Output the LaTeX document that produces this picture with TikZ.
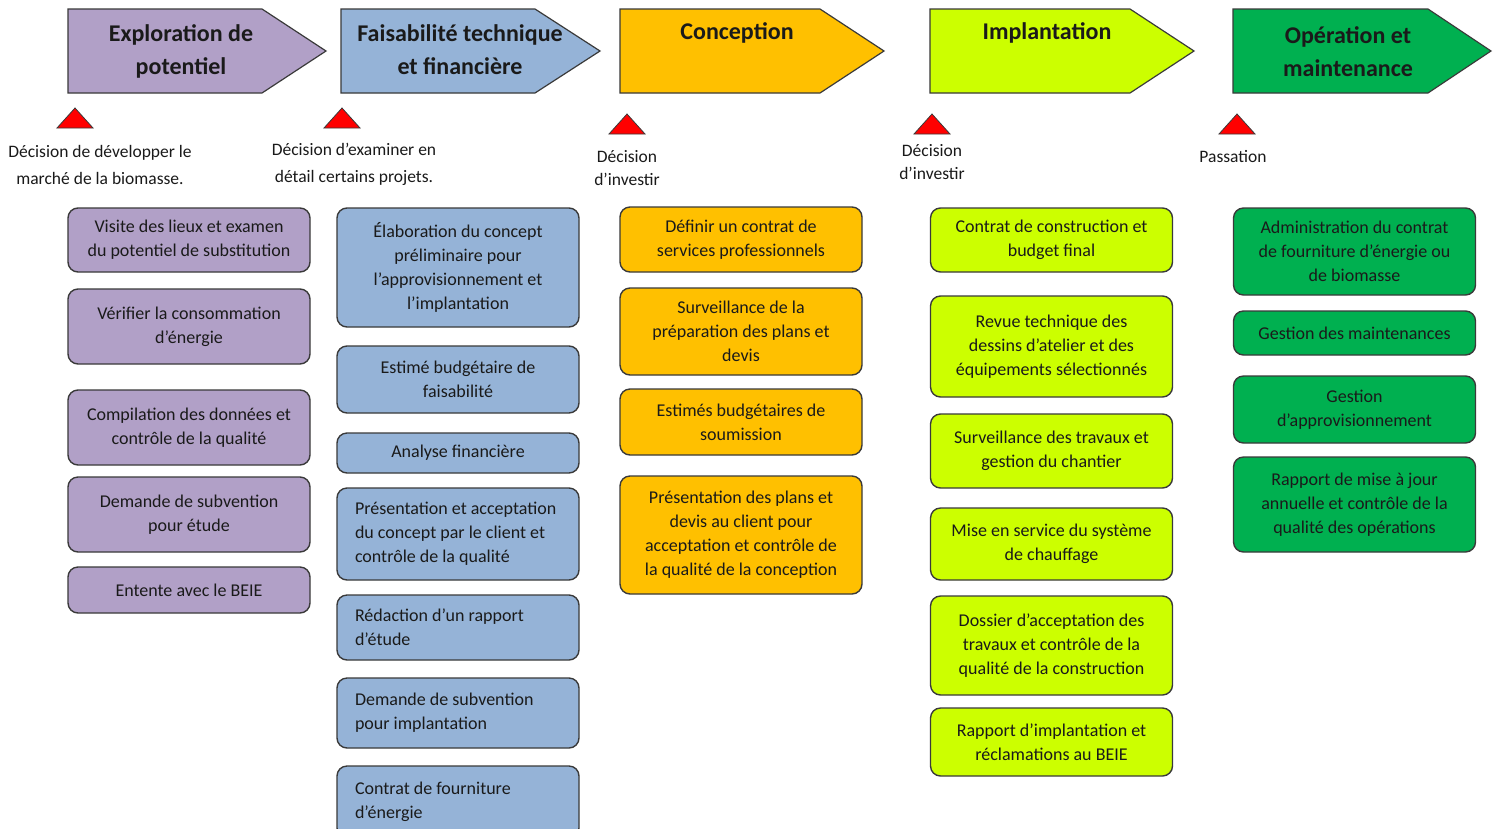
\documentclass[tikz,border=0pt]{standalone}
\usepackage{fontspec}
\setmainfont{Carlito}
\definecolor{cpurple}{HTML}{B1A0C7}
\definecolor{cblue}{HTML}{95B3D7}
\definecolor{corange}{HTML}{FFC000}
\definecolor{clime}{HTML}{CCFF00}
\definecolor{cgreen}{HTML}{00B050}
\definecolor{cred}{HTML}{FF0000}
\definecolor{cedge}{HTML}{3A3A3A}
\definecolor{ctext}{HTML}{1A1A1A}
\begin{document}
\begin{tikzpicture}[x=1pt,y=-1pt,
  chev/.style={draw=cedge, line width=1.2pt, line join=miter},
  chevtext/.style={align=center, inner sep=0pt, font=\fontsize{24}{33}\selectfont\bfseries, text=ctext},
  tri/.style={draw=cedge, line width=0.8pt, fill=cred},
  lab/.style={align=center, inner sep=0pt, font=\fontsize{17.5}{27}\selectfont, text=ctext},
  labb/.style={lab, font=\fontsize{17.5}{23}\selectfont},
  box/.style={draw=cedge, line width=1.4pt, rounded corners=10pt, align=center, inner sep=0pt,
    font=\fontsize{18}{24}\selectfont, text=ctext, minimum width=242pt},
  lbox/.style={box, align=flush left, text width=206pt, inner xsep=18pt, minimum width=0pt},
  pbox/.style={box, fill=cpurple},
  bbox/.style={box, fill=cblue},
  blbox/.style={lbox, fill=cblue},
  obox/.style={box, fill=corange},
  ybox/.style={box, fill=clime},
  gbox/.style={box, fill=cgreen}]
\clip (0,0) rectangle (1498,828);
\fill[white] (0,0) rectangle (1498,828);

% chevrons
\draw[chev, fill=cpurple] (68,9) -- (262,9) -- (326,51) -- (262,93) -- (68,93) -- cycle;
\draw[chev, fill=cblue] (341,9) -- (535,9) -- (600,51) -- (535,93) -- (341,93) -- cycle;
\draw[chev, fill=corange] (620,9) -- (820,9) -- (884,51) -- (820,93) -- (620,93) -- cycle;
\draw[chev, fill=clime] (930,9) -- (1130,9) -- (1194,51) -- (1130,93) -- (930,93) -- cycle;
\draw[chev, fill=cgreen] (1233,9) -- (1428,9) -- (1491,51) -- (1428,93) -- (1233,93) -- cycle;

\node[chevtext] (t1) at (181,51.5) {Exploration de\\potentiel};
\node[chevtext] (t2) at (460,49.5) {Faisabilité technique\\et financière};
\node[chevtext] (t3) at (737,33) {Conception};
\node[chevtext] (t4) at (1047,33) {Implantation};
\node[chevtext] (t5) at (1348,51.5) {Opération et\\maintenance};

% decision triangles
\draw[tri] (75,108) -- (93,128) -- (57,128) -- cycle;
\draw[tri] (342,108) -- (360,128) -- (324,128) -- cycle;
\draw[tri] (627,114) -- (645,134) -- (609,134) -- cycle;
\draw[tri] (932,114) -- (950,134) -- (914,134) -- cycle;
\draw[tri] (1237,114) -- (1255,134) -- (1219,134) -- cycle;

\node[lab] (d1) at (100,164.5) {Décision de développer le\\marché de la biomasse.};
\node[lab] (d2) at (354,164.5) {Décision d’examiner en\\détail certains projets.};
\node[labb] (d3) at (627,168.5) {Décision\\d’investir};
\node[labb] (d4) at (932,162.5) {Décision\\d’investir};
\node[labb] (d5) at (1233,157) {Passation};

% column 1
\node[pbox, minimum height=64pt] (b11) at (189,240) {Visite des lieux et examen\\du potentiel de substitution};
\node[pbox, minimum height=75pt] (b12) at (189,326.5) {Vérifier la consommation\\d’énergie};
\node[pbox, minimum height=75pt] (b13) at (189,427.5) {Compilation des données et\\contrôle de la qualité};
\node[pbox, minimum height=75pt] (b14) at (189,514.5) {Demande de subvention\\pour étude};
\node[pbox, minimum height=46pt] (b15) at (189,590) {Entente avec le BEIE};

% column 2
\node[bbox, minimum height=119pt] (b21) at (458,267.5) {Élaboration du concept\\préliminaire pour\\l’approvisionnement et\\l’implantation};
\node[bbox, minimum height=67pt] (b22) at (458,379.5) {Estimé budgétaire de\\faisabilité};
\node[bbox, minimum height=40pt] (b23) at (458,453) {Analyse financière};
\node[blbox, minimum height=92pt] (b24) at (458,534) {\mbox{Présentation et acceptation}\\\mbox{du concept par le client et}\\\mbox{contrôle de la qualité}};
\node[blbox, minimum height=65pt] (b25) at (458,627.5) {\mbox{Rédaction d’un rapport}\\\mbox{d’étude}};
\node[blbox, minimum height=70pt] (b26) at (458,713) {\mbox{Demande de subvention}\\\mbox{pour implantation}};
\node[blbox, minimum height=72pt] (b27) at (458,802) {\mbox{Contrat de fourniture}\\\mbox{d’énergie}};

% column 3
\node[obox, minimum height=65pt] (b31) at (741,239.5) {Définir un contrat de\\services professionnels};
\node[obox, minimum height=87pt] (b32) at (741,331.5) {Surveillance de la\\préparation des plans et\\devis};
\node[obox, minimum height=66pt] (b33) at (741,422) {Estimés budgétaires de\\soumission};
\node[obox, minimum height=118pt] (b34) at (741,535) {Présentation des plans et\\devis au client pour\\acceptation et contrôle de\\la qualité de la conception};

% column 4
\node[ybox, minimum height=64pt] (b41) at (1051.5,240) {Contrat de construction et\\budget final};
\node[ybox, minimum height=101pt] (b42) at (1051.5,346.5) {Revue technique des\\dessins d’atelier et des\\équipements sélectionnés};
\node[ybox, minimum height=74pt] (b43) at (1051.5,451) {Surveillance des travaux et\\gestion du chantier};
\node[ybox, minimum height=72pt] (b44) at (1051.5,544) {Mise en service du système\\de chauffage};
\node[ybox, minimum height=99pt] (b45) at (1051.5,645.5) {Dossier d’acceptation des\\travaux et contrôle de la\\qualité de la construction};
\node[ybox, minimum height=68pt] (b46) at (1051.5,742) {Rapport d’implantation et\\réclamations au BEIE};

% column 5
\node[gbox, minimum height=87pt] (b51) at (1354.5,251.5) {Administration du contrat\\de fourniture d’énergie ou\\de biomasse};
\node[gbox, minimum height=44pt] (b52) at (1354.5,333) {Gestion des maintenances};
\node[gbox, minimum height=67pt] (b53) at (1354.5,409.5) {Gestion\\d’approvisionnement};
\node[gbox, minimum height=95pt] (b54) at (1354.5,504.5) {Rapport de mise à jour\\annuelle et contrôle de la\\qualité des opérations};
\end{tikzpicture}
\end{document}
